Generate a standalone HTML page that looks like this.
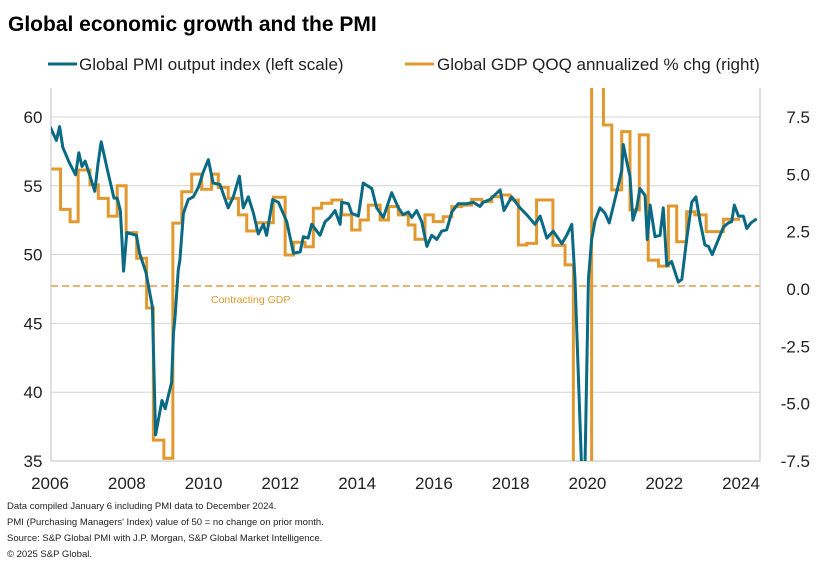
<!DOCTYPE html>
<html><head><meta charset="utf-8"><style>
html,body{margin:0;padding:0;background:#fff;width:820px;height:568px;overflow:hidden;font-family:"Liberation Sans",Arial,sans-serif}
svg{display:block;position:absolute;left:0;top:0}
svg text{font-family:"Liberation Sans",Arial,sans-serif}
</style></head><body>
<svg id="c" width="820" height="568" viewBox="0 0 820 568" overflow="hidden" xmlns="http://www.w3.org/2000/svg">
<text x="8" y="31" font-size="21" font-weight="bold" fill="#000">Global economic growth and the PMI</text>
<g>
<g><line x1="48" y1="64" x2="77" y2="64" stroke="#0a6a84" stroke-width="3"/><text x="79" y="70" font-size="17" fill="#222">Global PMI output index (left scale)</text></g>
<g><line x1="405" y1="64" x2="434" y2="64" stroke="#e0982f" stroke-width="3"/><text x="437" y="70" font-size="17" fill="#222">Global GDP QOQ annualized % chg (right)</text></g>
</g>
<g id="grid"></g>
<g id="axes"></g>
<g id="series"></g>
<g font-size="9.5" fill="#222">
<text x="7" y="509">Data compiled January 6 including PMI data to December 2024.</text>
<text x="7" y="525">PMI (Purchasing Managers' Index) value of 50 = no change on prior month.</text>
<text x="7" y="541">Source: S&amp;P Global PMI with J.P. Morgan, S&amp;P Global Market Intelligence.</text>
<text x="7" y="557">© 2025 S&amp;P Global.</text>
</g>
</svg>
<script>
const leftTicks=[35,40,45,50,55,60];
const rightTicks=[-7.5,-5.0,-2.5,0.0,2.5,5.0,7.5];
const yearTicks=[2006,2008,2010,2012,2014,2016,2018,2020,2022,2024];
// PMI: months since Jan 2006 and values
const pmiMonths=[0,2,3,4,6,8,9,10,11,14,15,16,18,20,21,22,23,24,27,28,30,32,33,35,36,38,38.6,39.1,40.1,40.6,41.7,43.2,44.8,46.4,47.9,49.5,51.0,53.1,55.7,57.3,59.2,60.4,62.0,63.6,65.1,66.7,67.7,69.6,71.4,74.0,76.1,78.2,79.2,80.7,81.8,84.4,86.0,87.5,89.1,90.7,91.2,93.3,94.3,96.4,97.9,100.6,102.1,104.2,106.8,108.9,110.4,112.0,113.1,114.6,116.2,117.8,119.3,120.9,122.4,124.0,125.6,127.6,130.3,132.3,134.4,135.4,137.5,140.7,141.9,144.3,146.9,149.0,151.6,153.2,155.3,157.3,160.0,161.5,163.1,164.1,166.2,167.2,168.3,169.3,170.4,171.9,173.5,174.8,177.1,178.7,179.2,180.5,181.3,182.2,183.4,184.4,186.0,186.7,187.6,189.1,190.7,191.7,192.8,194.3,196.4,197.5,199.0,200.6,201.9,203.2,204.7,205.8,207.0,208.4,210.5,212.0,213.1,213.9,215.2,216.7,217.8,219.1,220.9];
const pmiValues=[59.3,58.3,59.3,57.8,56.7,55.8,57.4,56.4,56.8,54.6,56.6,58.2,56.1,54.1,54.1,53.2,48.8,51.6,51.4,50.1,48.7,46.2,36.9,39.4,38.8,40.7,44.3,45.5,48.9,49.6,53.0,54.0,54.2,54.9,56.0,56.9,55.2,55.1,53.4,54.2,55.7,53.4,54.2,53.0,51.5,52.2,51.4,54.0,53.8,52.4,50.1,50.2,51.3,51.2,52.2,51.4,52.4,52.7,53.2,52.2,53.8,53.7,53.0,52.8,55.2,54.8,53.4,52.7,54.5,53.4,52.9,53.1,52.7,53.2,52.4,50.6,51.4,51.1,51.7,51.8,53.1,53.7,53.7,53.8,53.5,53.8,54.0,54.7,53.2,54.2,53.4,52.9,52.2,52.8,51.2,51.7,50.8,51.4,52.2,48.2,26.0,30.0,48.2,51.1,52.5,53.4,53.0,52.3,54.5,56.1,58.0,56.5,55.7,52.5,53.4,54.8,54.3,51.1,53.6,51.3,51.4,53.4,49.2,49.5,48.0,48.2,51.1,53.8,54.2,52.4,50.7,50.6,50.0,50.8,52.0,52.3,52.4,53.6,52.8,52.8,51.9,52.3,52.6];
// GDP: quarter start months and annualized % values (step)
const gdpMonths=[0.5,3.3,6.3,8.8,12.5,15.1,18.2,21.0,23.8,27.1,30.2,32.3,35.6,38.4,41.2,44.3,47.4,50.5,52.6,55.7,58.9,61.5,64.6,69.8,73.5,76.1,79.7,82.3,84.9,88.1,91.2,94.3,96.9,99.5,103.2,105.8,108.9,112.0,114.1,117.2,119.8,122.9,125.6,128.7,131.8,135.0,138.1,141.2,143.8,146.4,149.0,152.1,157.2,161.0,163.6,169.3,173.0,175.6,178.7,181.3,184.2,187.0,190.2,193.3,195.9,199.0,201.6,205.1,210.5];
const gdpValues=[5.23,3.47,2.93,5.19,4.54,3.95,3.18,4.5,2.46,1.34,-0.83,-6.59,-7.38,2.87,4.24,5.01,4.35,5.01,4.43,3.95,3.23,2.53,2.89,4.0,1.48,2.04,1.84,3.52,3.74,3.88,3.23,2.57,3.01,3.66,3.01,3.59,3.23,2.79,2.17,3.23,2.94,3.15,3.59,3.66,3.91,3.81,4.02,4.10,3.88,1.92,1.99,3.88,1.9,1.05,-30,30,7.15,4.32,6.86,3.45,6.72,1.26,1.0,3.62,2.06,3.37,3.23,2.5,3.04];
const gdpEndMonth=215.7;

const NS='http://www.w3.org/2000/svg';
const X0=50,YEARPX=38.39,L=51,R=760,T=88,B=461;
const clampY=y=>Math.max(T-10,Math.min(B+10,y));
const xM=m=>X0+m/12*YEARPX;
const xY=y=>X0+(y-2006)*YEARPX;
const yL=v=>clampY(117+(60-v)*(B-117)/25);
const yR=v=>clampY(289-v*(B-117)/15);
function mk(tag,attrs,parent){const e=document.createElementNS(NS,tag);for(const k in attrs)e.setAttribute(k,attrs[k]);parent.appendChild(e);return e;}
const grid=document.getElementById('grid'),axes=document.getElementById('axes'),ser=document.getElementById('series');
leftTicks.forEach(v=>{
  if(v>35){const g=mk('line',{x1:L,x2:R,y1:yL(v),y2:yL(v),stroke:'#d4d4d4','stroke-width':1},grid);
  
  }
  const t=mk('text',{x:33,y:yL(v)+6,'font-size':17,'text-anchor':'middle',fill:'#222'},axes);t.textContent=v;
  
  
});
rightTicks.forEach(v=>{
  const t=mk('text',{x:810,y:yR(v)+6,'font-size':17,'text-anchor':'end',fill:'#222'},axes);t.textContent=v.toFixed(1);
  
  
});
yearTicks.forEach(y=>{
  const t=mk('text',{x:xY(y),y:489,'font-size':17,'text-anchor':'middle',fill:'#222'},axes);t.textContent=y;
  
  
});
const ax=mk('path',{d:`M${L},${T}V${B}H${R}V${T}`,fill:'none',stroke:'#bfbfbf','stroke-width':1},axes);


const zl=mk('line',{x1:L,x2:R,y1:yR(0)-3,y2:yR(0)-3,stroke:'#d08a22','stroke-width':1.3,'stroke-dasharray':'7,4'},grid);


const zt=mk('text',{x:211,y:303,'font-size':10.5,fill:'#e0982f'},grid);zt.textContent='Contracting GDP';


const cp=mk('clipPath',{id:'clip'},ser);mk('rect',{x:L,y:T,width:R-L,height:B-T},cp);
let d='';
gdpMonths.forEach((m,i)=>{const x=xM(m),y=yR(gdpValues[i]);d+=i?`H${x}V${y}`:`M${x},${y}`;});
d+=`H${xM(gdpEndMonth)}`;
const gp=mk('path',{d,fill:'none',stroke:'#e0982f','stroke-width':3,'clip-path':'url(#clip)'},ser);


const pd=pmiMonths.map((m,i)=>(i?'L':'M')+xM(m)+','+yL(pmiValues[i])).join('');
const pp=mk('path',{d:pd,fill:'none',stroke:'#0a6a84','stroke-width':3,'stroke-linejoin':'round','clip-path':'url(#clip)'},ser);


</script>
</body></html>
